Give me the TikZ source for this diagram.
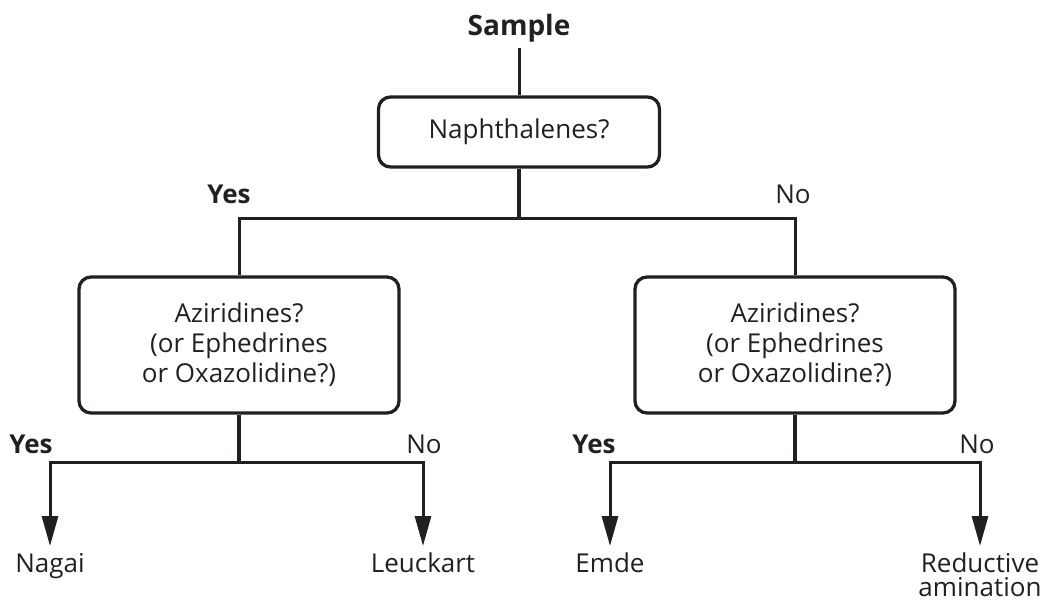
\documentclass[tikz,border=0pt]{standalone}
\usepackage{fontspec}
\setmainfont{Open Sans}
\usetikzlibrary{arrows.meta}
\definecolor{ink}{HTML}{231F20}
\tikzset{
  every node/.style={text=ink, font=\fontsize{26}{30}\selectfont},
  line/.style={draw=ink, line width=3pt},
  stub/.style={draw=ink, line width=4.8pt},
  arr/.style={line, -{Triangle[length=30pt,width=16pt]}, shorten >=7pt},
  qbox/.style={draw=ink, line width=3.3pt, rounded corners=12pt, align=center, inner sep=0pt},
  lbl/.style={anchor=base, inner sep=0pt},
  boldlbl/.style={lbl, font=\fontsize{26}{30}\selectfont\bfseries},
  endlbl/.style={anchor=north, align=center, inner sep=0pt, font=\fontsize{26}{24}\selectfont},
}
\newcommand{\firststrut}{\rule{0pt}{19pt}}
\begin{document}
\begin{tikzpicture}[x=1pt, y=-1pt]
\useasboundingbox (0,0) rectangle (1047,602);
% nodes
\node[lbl, font=\fontsize{28}{30}\selectfont\bfseries, inner ysep=5pt] (sample) at (519,36) {Sample};
\node[qbox, minimum width=281pt, minimum height=70pt] (naph) at (519,132) {Naphthalenes?};
\node[qbox, minimum width=320pt, minimum height=136pt] (lbox) at (239,345) {Aziridines?\\(or Ephedrines\\or Oxazolidine?)};
\node[qbox, minimum width=320pt, minimum height=136pt] (rbox) at (795,345) {Aziridines?\\(or Ephedrines\\or Oxazolidine?)};
\coordinate (jt) at (519,218);
\coordinate (lj) at (239,462);
\coordinate (rj) at (795,462);
\node[endlbl] (nagai) at (50,553) {\firststrut Nagai};
\node[endlbl] (leuck) at (423,553) {\firststrut Leuckart};
\node[endlbl] (emde) at (610,553) {\firststrut Emde};
\node[endlbl] (redam) at (980,553) {\firststrut Reductive\\amination};
% labels
\node[boldlbl] (yes0) at (229,203) {Yes};
\node[lbl] (no0) at (793,203) {No};
\node[boldlbl] (yes1) at (31,453) {Yes};
\node[lbl] (no1) at (424,453) {No};
\node[boldlbl] (yes2) at (594,453) {Yes};
\node[lbl] (no2) at (977,453) {No};
% connectors
\draw[line] (sample.south) -- (naph.north);
\draw[stub] (naph.south) -- (jt);
\draw[line] (jt) -| (lbox.north);
\draw[line] (jt) -| (rbox.north);
\draw[stub] (lbox.south) -- (lj);
\draw[stub] (rbox.south) -- (rj);
\draw[arr] (lj) -| (nagai.north);
\draw[arr] (lj) -| (leuck.north);
\draw[arr] (rj) -| (emde.north);
\draw[arr] (rj) -| (redam.north);
\end{tikzpicture}
\end{document}
